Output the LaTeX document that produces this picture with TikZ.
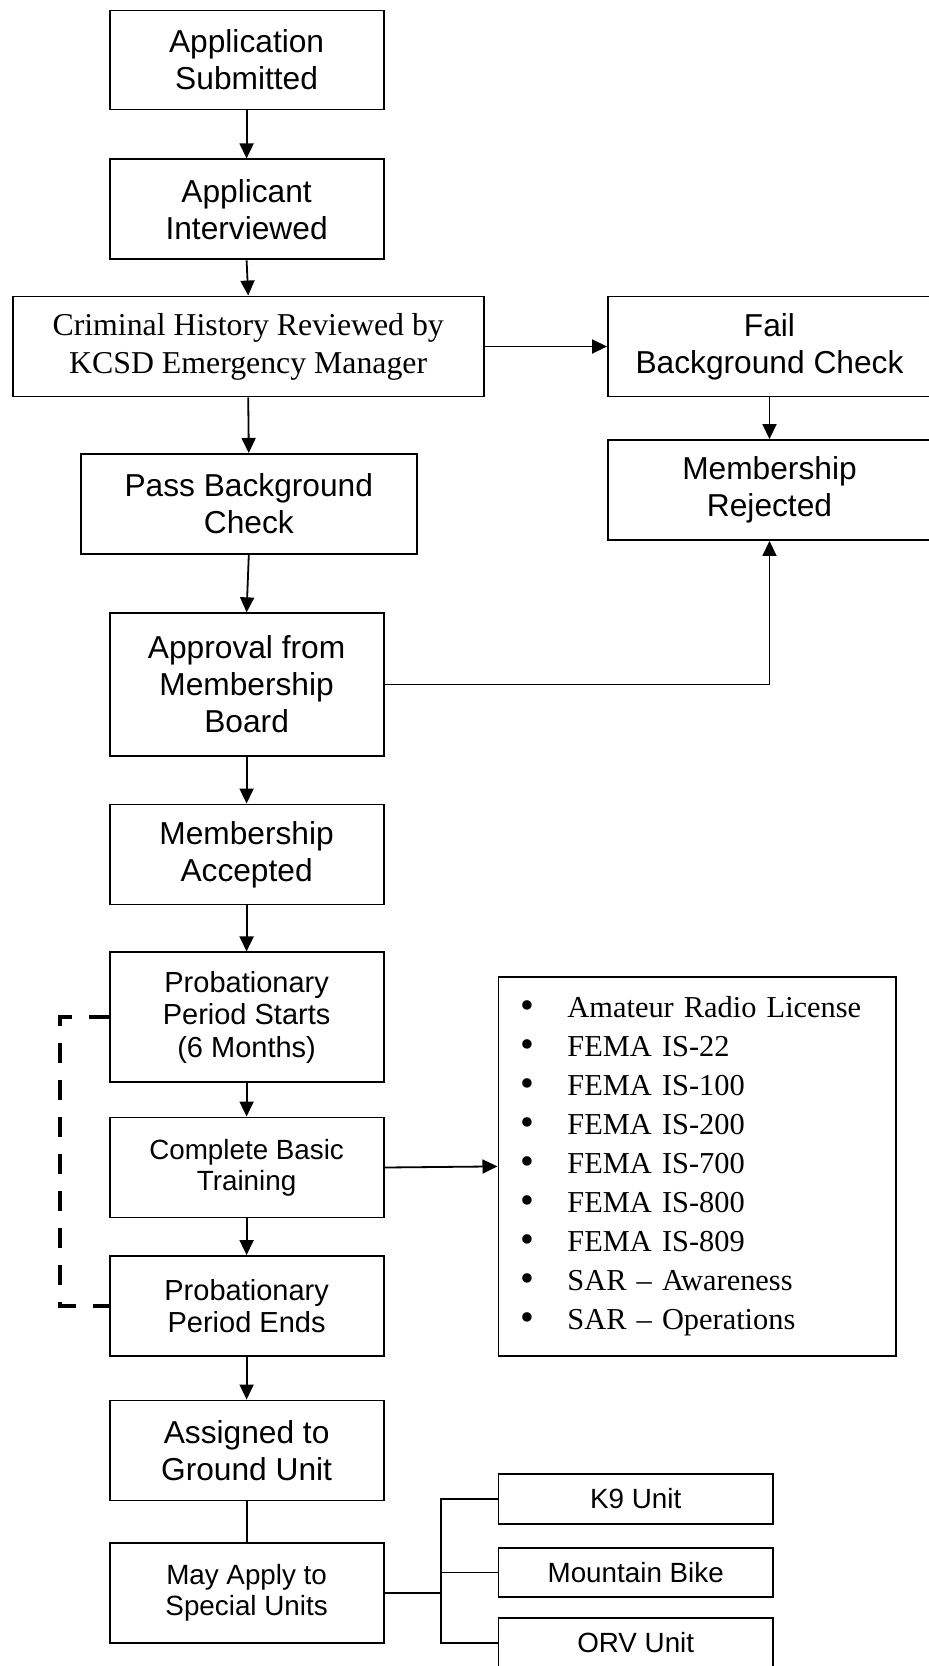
\documentclass[tikz,border=0pt]{standalone}
\usepackage{fontspec}
\usetikzlibrary{arrows.meta}
\newfontfamily\farial{Liberation Sans}
\newfontfamily\ftimes{Liberation Serif}
\newcommand\lstbul{\makebox[23.5pt][l]{\raisebox{-0.4pt}{\scalebox{1.3}{\textbullet}}}}
\begin{document}
\begin{tikzpicture}[x=0.5pt,y=-0.5pt,
  box/.style={draw, line width=0.95pt, inner sep=0pt, align=center, minimum width=137pt, minimum height=50pt},
  fA/.style={font=\farial\fontsize{15.85}{18.5}\selectfont},
  fB/.style={font=\farial\fontsize{14.5}{16.25}\selectfont},
  fC/.style={font=\farial\fontsize{13.9}{15.7}\selectfont},
  fT/.style={font=\ftimes\fontsize{15.9}{19}\selectfont},
  arr/.style={line width=0.9pt, -{Triangle[length=7.5pt,width=7pt]}},
  conn/.style={line width=0.9pt},
  dashconn/.style={line width=1.9pt, dash pattern=on 10pt off 8.5pt}
]
\clip (0,0) rectangle (929,1666);
\fill[white] (0,0) rectangle (929,1666);

\node[box, fA, minimum height=49.5pt] (app) at (246.6,60) {Application\\Submitted};
\node[box, fA] (int) at (246.6,209.4) {Applicant\\Interviewed};
\node[box, fT, minimum width=235.4pt] (crim) at (248.2,346.5) {Criminal History Reviewed by\\KCSD Emergency Manager};
\node[box, fA, minimum width=161.5pt] (fail) at (769.5,346.5) {Fail\\Background Check};
\node[box, fA, minimum width=161.5pt] (rej) at (769.5,490) {Membership\\Rejected};
\node[box, fA, minimum width=168pt] (pass) at (248.8,503.9) {Pass Background\\Check};
\node[box, fA, minimum height=71.2pt] (appr) at (246.6,684.5) {Approval from\\Membership\\Board};
\node[box, fA] (acc) at (246.6,854.5) {Membership\\Accepted};
\node[box, fB, minimum height=64.8pt] (pstart) at (246.6,1017.2) {Probationary\\Period Starts\\(6 Months)};
\node[box, fC] (basic) at (246.6,1167.5) {Complete Basic\\Training};
\node[box, fB] (pend) at (246.6,1306) {Probationary\\Period Ends};
\node[box, minimum width=198.75pt, minimum height=189.5pt, inner xsep=11pt, text width=176.75pt, align=left,
      font=\ftimes\fontsize{15.2}{19.5}\selectfont] (list) at (697.2,1166.4)
  {\lstbul Amateur Radio License\\
   \lstbul FEMA IS-22\\
   \lstbul FEMA IS-100\\
   \lstbul FEMA IS-200\\
   \lstbul FEMA IS-700\\
   \lstbul FEMA IS-800\\
   \lstbul FEMA IS-809\\
   \lstbul SAR – Awareness\\
   \lstbul SAR – Operations};
\node[box, fA] (assign) at (246.6,1450.5) {Assigned to\\Ground Unit};
\node[box, fC] (may) at (246.6,1593) {May Apply to\\Special Units};
\node[box, fC, minimum width=137.2pt, minimum height=24.7pt] (k9) at (635.7,1499) {K9 Unit};
\node[box, fC, minimum width=137.2pt, minimum height=24.7pt] (mtb) at (635.7,1572.5) {Mountain Bike};
\node[box, fC, minimum width=137.2pt, minimum height=25pt] (orv) at (635.7,1643) {ORV Unit};

\draw[arr] (app) -- (int);
\draw[arr] (int.south) -- (crim.north);
\draw[arr] (crim) -- (fail);
\draw[arr] (fail) -- (rej);
\draw[arr] (crim.south) -- (pass.north);
\draw[arr] (pass.south) -- (appr.north);
\draw[arr] (appr.east) -| (rej.south);
\draw[arr] (appr) -- (acc);
\draw[arr] (acc) -- (pstart);
\draw[arr] (pstart) -- (basic);
\draw[arr] (basic) -- (pend);
\draw[arr] (basic.east) -- (list.west);
\draw[arr] (pend) -- (assign);
\draw[conn] (assign) -- (may);
\draw[dashconn] (pstart.west) -- ++(-48.3,0) |- (pend.west);

\coordinate (bx) at (441,1593);
\draw[conn] (may.east) -- (may.east -| bx);
\draw[conn] (k9.west) -| (orv.west -| bx) -- (orv.west);
\draw[conn] (mtb.west) -- (mtb.west -| bx);
\end{tikzpicture}
\end{document}
